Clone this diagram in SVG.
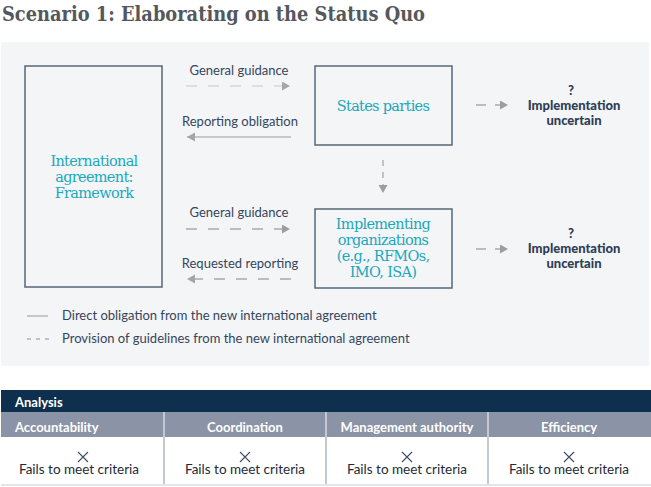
<svg xmlns="http://www.w3.org/2000/svg" width="651" height="487" viewBox="0 0 651 487">
<defs>
<style>
.title{font-family:"DejaVu Serif",serif;font-weight:bold;font-size:21px;fill:#54585d}
.teal{font-family:"DejaVu Serif",serif;font-size:14.5px;fill:#1ba8bc;text-anchor:middle;letter-spacing:-0.7px}
.lbl{font-family:Lato,"Liberation Sans",sans-serif;font-size:13px;fill:#34465c;text-anchor:middle}
.unc{font-family:Lato,"Liberation Sans",sans-serif;font-weight:900;font-size:13px;fill:#2f3f56;text-anchor:middle}
.leg{font-family:Lato,"Liberation Sans",sans-serif;font-size:13px;fill:#34465c}
.th{font-family:Lato,"Liberation Sans",sans-serif;font-weight:bold;font-size:13px;fill:#ffffff}
.td{font-family:Lato,"Liberation Sans",sans-serif;font-size:13.5px;fill:#1e2a38;text-anchor:middle}
.box{fill:none;stroke:#55677a;stroke-width:1.5}
.cn{fill:none;stroke-width:1.3}
</style>
<marker id="ahL" markerUnits="userSpaceOnUse" markerWidth="10" markerHeight="10" refX="8" refY="4.5" orient="auto"><path d="M0,0 L8,4.5 L0,9 Z" fill="#a3a6aa"/></marker>
<marker id="ahD" markerUnits="userSpaceOnUse" markerWidth="10" markerHeight="10" refX="8" refY="4.5" orient="auto"><path d="M0,0 L8,4.5 L0,9 Z" fill="#9a9da1"/></marker>
</defs>
<rect x="0" y="0" width="651" height="487" fill="#ffffff"/>
<text class="title" x="2" y="21" textLength="423" lengthAdjust="spacingAndGlyphs">Scenario 1: Elaborating on the Status Quo</text>
<rect x="1" y="42" width="648" height="324" fill="#f4f5f7"/>

<g id="framework">
<rect class="box" x="25" y="66" width="137" height="221"/>
<text class="teal" x="94" y="166">International</text>
<text class="teal" x="94" y="182">agreement:</text>
<text class="teal" x="94" y="198">Framework</text>
</g>
<g id="states">
<rect class="box" x="315" y="66" width="137" height="79"/>
<text class="teal" x="383" y="111">States parties</text>
</g>
<g id="implementing">
<rect class="box" x="315" y="209" width="137" height="79"/>
<text class="teal" x="383" y="229">Implementing</text>
<text class="teal" x="383" y="245">organizations</text>
<text class="teal" x="383" y="261">(e.g., RFMOs,</text>
<text class="teal" x="383" y="277">IMO, ISA)</text>
</g>
<g id="uncertain1">
<text class="unc" x="571" y="95">?</text>
<text class="unc" x="574" y="110">Implementation</text>
<text class="unc" x="574" y="125">uncertain</text>
</g>
<g id="uncertain2">
<text class="unc" x="571" y="238">?</text>
<text class="unc" x="574" y="253">Implementation</text>
<text class="unc" x="574" y="268">uncertain</text>
</g>

<g id="connectors">
<text class="lbl" x="239" y="75">General guidance</text>
<line class="cn" x1="186" y1="86" x2="290" y2="86" stroke="#d3d6da" stroke-dasharray="11 11" marker-end="url(#ahL)"/>
<text class="lbl" x="240" y="126">Reporting obligation</text>
<line class="cn" x1="291" y1="137" x2="187" y2="137" stroke="#b6b8bb" marker-end="url(#ahL)"/>
<text class="lbl" x="239" y="217">General guidance</text>
<line class="cn" x1="186" y1="229" x2="290" y2="229" stroke="#a6a9ad" stroke-dasharray="11 11" marker-end="url(#ahD)"/>
<text class="lbl" x="240" y="268">Requested reporting</text>
<line class="cn" x1="291" y1="279" x2="187" y2="279" stroke="#a6a9ad" stroke-dasharray="11 11" marker-end="url(#ahL)"/>
<line class="cn" x1="383" y1="160" x2="383" y2="193" stroke="#a6a9ad" stroke-dasharray="6 6" marker-end="url(#ahD)"/>
<line class="cn" x1="476" y1="105" x2="508" y2="105" stroke="#a6a9ad" stroke-dasharray="10 9" marker-end="url(#ahD)"/>
<line class="cn" x1="476" y1="249" x2="508" y2="249" stroke="#a6a9ad" stroke-dasharray="10 9" marker-end="url(#ahD)"/>
</g>

<g id="legend">
<line x1="27" y1="316" x2="48" y2="316" stroke="#a6a9ad" stroke-width="1.2"/>
<text class="leg" x="62" y="320">Direct obligation from the new international agreement</text>
<line x1="27" y1="339" x2="49" y2="339" stroke="#8a8f96" stroke-width="1.2" stroke-dasharray="4 5"/>
<text class="leg" x="62" y="343">Provision of guidelines from the new international agreement</text>
</g>

<g id="table">
<rect x="1" y="390" width="650" height="22" fill="#0e2f4e"/>
<text class="th" x="15" y="407">Analysis</text>
<rect x="1" y="412" width="650" height="25" fill="#8b93a6"/>
<rect x="1" y="437" width="650" height="47" fill="#ffffff"/>
<line x1="1" y1="485" x2="651" y2="485" stroke="#e1e6ec" stroke-width="2"/>
<g stroke="#c3c8d2" stroke-width="2">
<line x1="164" y1="412" x2="164" y2="484"/>
<line x1="326" y1="412" x2="326" y2="484"/>
<line x1="488" y1="412" x2="488" y2="484"/>
</g>
<text class="th" x="15" y="432">Accountability</text>
<text class="th" x="245" y="432" text-anchor="middle">Coordination</text>
<text class="th" x="407" y="432" text-anchor="middle">Management authority</text>
<text class="th" x="569" y="432" text-anchor="middle">Efficiency</text>
<g stroke="#3b4e66" stroke-width="1.1">
<path d="M78,452 L88,462 M88,452 L78,462"/>
<path d="M240,452 L250,462 M250,452 L240,462"/>
<path d="M402,452 L412,462 M412,452 L402,462"/>
<path d="M564,452 L574,462 M574,452 L564,462"/>
</g>
<text class="td" x="79" y="474">Fails to meet criteria</text>
<text class="td" x="245" y="474">Fails to meet criteria</text>
<text class="td" x="407" y="474">Fails to meet criteria</text>
<text class="td" x="569" y="474">Fails to meet criteria</text>
</g>
</svg>
